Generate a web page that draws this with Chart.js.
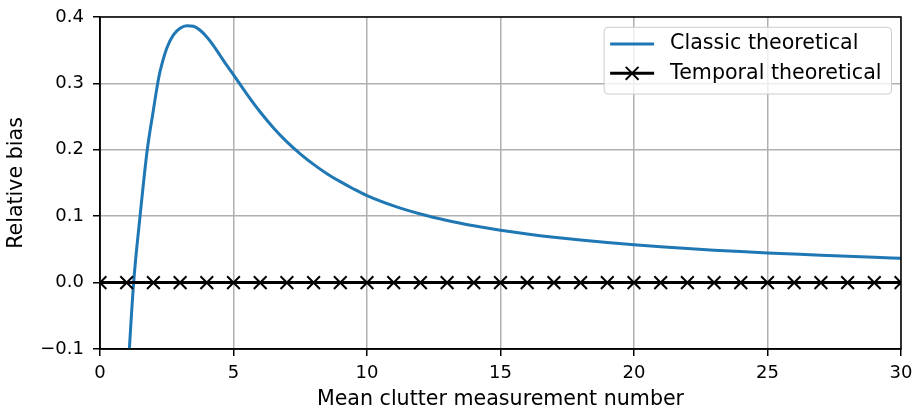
<!DOCTYPE html>
<html>
<head>
<meta charset="utf-8">
<script src="https://cdn.jsdelivr.net/npm/chart.js@4/dist/chart.umd.min.js"></script>
<style>
  html, body { margin: 0; padding: 0; background: #fff; }
  canvas { display: block; }
</style>
</head>
<body>
<canvas id="biasChart" width="917" height="409"></canvas>
<script>
// bias of the classic estimator vs. mean clutter count
const classicX = [1.0, 1.1, 1.26, 1.5, 1.77, 2.0, 2.16, 2.25, 2.5, 2.75, 3.0, 3.25, 3.5, 3.75, 4.0, 4.25, 4.5, 4.75,
                  5.0, 5.5, 6.0, 6.5, 7.0, 7.5, 8.0, 8.5, 9.0, 9.5, 10,
                  11, 12, 13, 14, 15, 16, 17, 18, 19, 20, 21, 22, 23, 24, 25, 26, 27, 28, 29, 30];
const classicY = [-0.17, -0.10, 0.0, 0.10, 0.20, 0.260, 0.300, 0.318, 0.353, 0.373, 0.383, 0.387, 0.386, 0.380, 0.370, 0.357, 0.342, 0.327,
                  0.313, 0.284, 0.257, 0.233, 0.212, 0.194, 0.178, 0.164, 0.152, 0.141, 0.131,
                  0.1155, 0.1033, 0.0935, 0.0855, 0.0788, 0.0731, 0.0682, 0.0640, 0.0603, 0.0570,
                  0.0540, 0.0513, 0.0489, 0.0467, 0.0447, 0.0429, 0.0412, 0.0396, 0.0381, 0.0367];

// temporal estimator is unbiased at every integer clutter count
const temporalX = [0, 1, 2, 3, 4, 5, 6, 7, 8, 9, 10, 11, 12, 13, 14, 15,
                   16, 17, 18, 19, 20, 21, 22, 23, 24, 25, 26, 27, 28, 29, 30];
const temporalY = [0, 0, 0, 0, 0, 0, 0, 0, 0, 0, 0, 0, 0, 0, 0, 0,
                   0, 0, 0, 0, 0, 0, 0, 0, 0, 0, 0, 0, 0, 0, 0];

const seriesLabels = ['Classic theoretical', 'Temporal theoretical'];
const xTicks = [0, 5, 10, 15, 20, 25, 30];
const yTicks = [-0.1, 0.0, 0.1, 0.2, 0.3, 0.4];

const FONT = '"DejaVu Sans", sans-serif';
const LABEL_SIZE = 20.6;
const toPoints = (xs, ys) => xs.map((x, i) => ({ x: x, y: ys[i] }));
const fmtY = v => (v < 0 ? '\u2212' : '') + Math.abs(v).toFixed(1);

// black box round the plot (all four spines)
const frame = {
  id: 'frame',
  afterDatasetsDraw(chart) {
    const { ctx, chartArea: a } = chart;
    ctx.save();
    ctx.strokeStyle = '#000';
    ctx.lineWidth = 1.5;
    ctx.strokeRect(a.left, a.top, a.right - a.left, a.bottom - a.top);
    ctx.restore();
  }
};

function roundBox(ctx, x, y, w, h, r) {
  ctx.beginPath();
  ctx.moveTo(x + r, y);
  ctx.arcTo(x + w, y, x + w, y + h, r);
  ctx.arcTo(x + w, y + h, x, y + h, r);
  ctx.arcTo(x, y + h, x, y, r);
  ctx.arcTo(x, y, x + w, y, r);
  ctx.closePath();
}

// legend in the upper right corner, inside the axes
const boxLegend = {
  id: 'boxLegend',
  afterDraw(chart) {
    const { ctx, chartArea: a } = chart;
    const sets = chart.data.datasets;
    ctx.save();
    ctx.font = LABEL_SIZE + 'px ' + FONT;
    const textW = Math.max(...sets.map(d => ctx.measureText(d.label).width));
    const padL = 6, handle = 44, gap = 16, padR = 10, rowH = 29.3;
    const w = padL + handle + gap + textW + padR;
    const h = 66.7;
    const x0 = a.right - 9.5 - w;
    const y0 = a.top + 10.3;

    roundBox(ctx, x0, y0, w, h, 4);
    ctx.fillStyle = 'rgba(255,255,255,0.8)';
    ctx.fill();
    ctx.strokeStyle = '#cccccc';
    ctx.lineWidth = 1;
    ctx.stroke();

    sets.forEach((d, i) => {
      const cy = y0 + 16.7 + i * rowH;
      const lx = x0 + padL;
      ctx.strokeStyle = d.borderColor;
      ctx.lineWidth = d.borderWidth;
      ctx.beginPath();
      ctx.moveTo(lx, cy);
      ctx.lineTo(lx + handle, cy);
      ctx.stroke();
      if (d.pointStyle === 'crossRot') {
        const cx = lx + handle / 2, s = 6.4;
        ctx.lineWidth = d.pointBorderWidth;
        ctx.beginPath();
        ctx.moveTo(cx - s, cy - s); ctx.lineTo(cx + s, cy + s);
        ctx.moveTo(cx - s, cy + s); ctx.lineTo(cx + s, cy - s);
        ctx.stroke();
      }
      ctx.fillStyle = '#000';
      ctx.textBaseline = 'middle';
      ctx.textAlign = 'left';
      ctx.fillText(d.label, lx + handle + gap, cy);
    });
    ctx.restore();
  }
};

const gridStyle = { color: '#b0b0b0', lineWidth: 1.5, tickColor: '#000', tickLength: 7, tickWidth: 1.5 };

new Chart(document.getElementById('biasChart'), {
  type: 'line',
  data: {
    datasets: [
      {
        label: seriesLabels[0],
        data: toPoints(classicX, classicY),
        borderColor: '#1f77b4',
        borderWidth: 3,
        pointRadius: 0,
        cubicInterpolationMode: 'monotone',
        clip: 0,
        order: 1
      },
      {
        label: seriesLabels[1],
        data: toPoints(temporalX, temporalY),
        borderColor: '#000',
        borderWidth: 3,
        pointStyle: 'crossRot',
        pointRadius: 9,
        pointBorderWidth: 2,
        pointBorderColor: '#000',
        pointBackgroundColor: '#000',
        clip: 0,
        order: 0
      }
    ]
  },
  options: {
    responsive: false,
    animation: false,
    devicePixelRatio: 1,
    layout: { padding: { left: 0, right: 16, top: 17, bottom: 0 } },
    plugins: { legend: { display: false }, tooltip: { enabled: false } },
    scales: {
      x: {
        type: 'linear',
        min: 0,
        max: 30,
        afterBuildTicks: s => { s.ticks = xTicks.map(v => ({ value: v })); },
        afterFit: s => { s.height = 60; s.paddingLeft = 0; s.paddingRight = 0; },
        ticks: { font: { family: FONT, size: 18 }, color: '#000', padding: 7, maxRotation: 0 },
        grid: gridStyle,
        border: { color: '#000', width: 1.5 },
        title: {
          display: true,
          text: 'Mean clutter measurement number',
          color: '#000',
          font: { family: FONT, size: LABEL_SIZE, lineHeight: 1.2 },
          padding: { top: 0, bottom: -3 }
        }
      },
      y: {
        type: 'linear',
        min: -0.1,
        max: 0.4,
        afterBuildTicks: s => { s.ticks = yTicks.map(v => ({ value: v })); },
        afterFit: s => { s.width = 100; s.paddingTop = 0; s.paddingBottom = 0; },
        ticks: { font: { family: FONT, size: 18 }, color: '#000', padding: 9, callback: v => fmtY(v) },
        grid: gridStyle,
        border: { color: '#000', width: 1.5 },
        title: {
          display: true,
          text: 'Relative bias',
          color: '#000',
          font: { family: FONT, size: LABEL_SIZE, lineHeight: 1.2 },
          padding: { top: 4, bottom: 0 }
        }
      }
    }
  },
  plugins: [frame, boxLegend]
});
</script>
</body>
</html>
